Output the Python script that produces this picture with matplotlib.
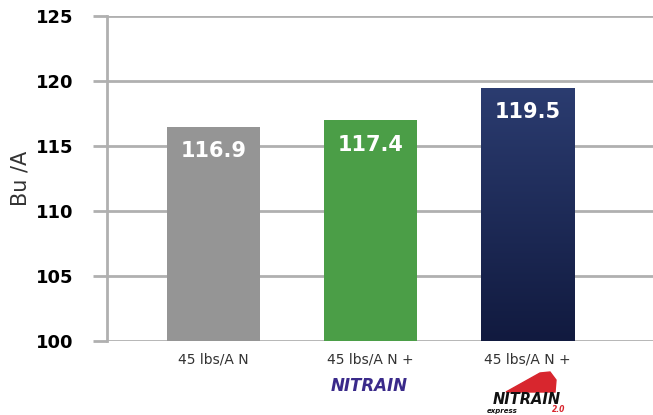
import numpy as np
import matplotlib.pyplot as plt
from matplotlib.patches import Polygon
from matplotlib.colors import LinearSegmentedColormap

categories = ['45 lbs/A N', '45 lbs/A N +', '45 lbs/A N +']
bar_heights = [116.5, 117.0, 119.5]
value_labels = ['116.9', '117.4', '119.5']
bar_colors = ['#959595', '#4b9e47', '#1a2452']
y_ticks = [100, 105, 110, 115, 120, 125]

W, H = 653, 415


def fx(px):
    return px / W


def fy(py):
    return 1 - py / H


fig = plt.figure(figsize=(6.53, 4.15), dpi=100)
ax = fig.add_axes([fx(107), fy(341), 1 - fx(107), 325 / H])

x = np.arange(len(categories))
bars = ax.bar(x, bar_heights, width=0.595, color=bar_colors, zorder=3)

# gradient on the navy bar
nb = bars[2]
grad = np.linspace(0, 1, 256).reshape(-1, 1)
cmap = LinearSegmentedColormap.from_list('navy', ['#111a3f', '#2b3c70'])
im = ax.imshow(grad, cmap=cmap, aspect='auto', origin='lower',
               extent=[nb.get_x(), nb.get_x() + nb.get_width(), 100, bar_heights[2]],
               zorder=4)
im.set_clip_path(nb)

for xi, v, lab in zip(x, bar_heights, value_labels):
    ax.text(xi, v - 1.92, lab, ha='center', va='center', color='white',
            fontsize=15, fontweight='bold', zorder=5)

ax.set_xlim(-0.678, 2.80)
ax.set_ylim(100, 125)
ax.set_yticks(y_ticks)
ax.set_yticklabels([str(t) for t in y_ticks], fontsize=13, fontweight='bold')
ax.yaxis.grid(True, color='#b0b0b0', linewidth=2, zorder=0)
ax.set_axisbelow(True)
ax.tick_params(axis='y', length=10, width=2, color='#b0b0b0', pad=14)
ax.tick_params(axis='x', length=0, pad=8)
ax.set_xticks(x)
ax.set_xticklabels(categories, fontsize=10, color='#333333')
for s in ['top', 'right', 'bottom']:
    ax.spines[s].set_visible(False)
ax.spines['left'].set_color('#b0b0b0')
ax.spines['left'].set_linewidth(2)
ax.set_ylabel('Bu /A', fontsize=15, color='#333333', labelpad=4)

# logos under the last two labels
fig.text(fx(369), fy(386), 'NITRAIN', ha='center', va='center',
         fontsize=12, fontweight='bold', style='italic', color='#3a2a8a')
fig.text(fx(527), fy(399), 'NITRAIN', ha='center', va='center',
         fontsize=10.5, fontweight='bold', style='italic', color='#111111')
fig.text(fx(487), fy(414), 'express', ha='left', va='bottom',
         fontsize=5, fontweight='bold', style='italic', color='#111111')
fig.text(fx(565), fy(414), '2.0', ha='right', va='bottom',
         fontsize=5.5, fontweight='bold', style='italic', color='#d8262e')
train = Polygon([[fx(506), fy(392)], [fx(540), fy(373)], [fx(550), fy(372)],
                 [fx(556), fy(380)], [fx(555), fy(392)]], closed=True,
                transform=fig.transFigure, color='#d8262e')
fig.patches.append(train)

fig.savefig('out.png', dpi=100)
